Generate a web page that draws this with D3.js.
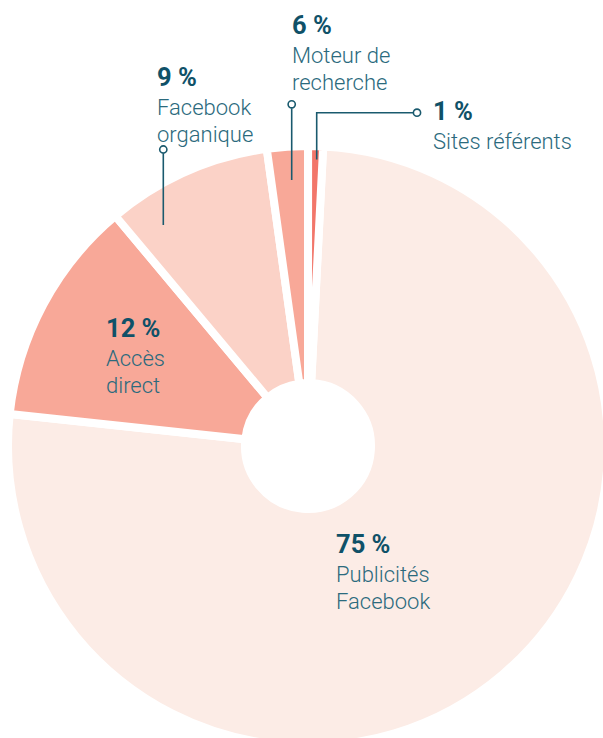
<!DOCTYPE html>
<html>
<head>
<meta charset="utf-8">
<script src="https://cdn.jsdelivr.net/npm/d3@7"></script>
<style>
  html, body { margin: 0; padding: 0; background: #fff; }
  svg { display: block; }
  .pct { font-family: Roboto, "Noto Sans", sans-serif; font-weight: 700; font-size: 25.5px; fill: #0f5168; }
  .name { font-family: Roboto, "Noto Sans", sans-serif; font-weight: 300; font-size: 22px; fill: #2b6a7d; }
</style>
</head>
<body>
<div id="chart"></div>
<script>
// traffic sources, in drawing order (clockwise)
const categories = ["Publicités Facebook", "Accès direct", "Facebook organique", "Moteur de recherche", "Sites référents"];
// share of the ring as drawn
const shares = [75.9, 12.2, 8.9, 2.2, 0.8];
// printed percentages
const pctLabels = ["75 %", "12 %", "9 %", "6 %", "1 %"];
// printed names, one entry per line
const nameLines = [["Publicités", "Facebook"], ["Accès", "direct"], ["Facebook", "organique"], ["Moteur de", "recherche"], ["Sites référents"]];

const colors = ["#fcece6", "#f8a898", "#fbd2c7", "#f8a898", "#f2766a"];

const width = 603, height = 738;
const cx = 308, cy = 446;

const svg = d3.select("#chart").append("svg")
    .attr("width", width)
    .attr("height", height);

const g = svg.append("g").attr("transform", `translate(${cx},${cy})`);

// ring starts a little right of twelve o'clock
const start = 2.9 * Math.PI / 180;
const pie = d3.pie().sort(null).value(d => d)
    .startAngle(start)
    .endAngle(start + 2 * Math.PI);

const arc = d3.arc().innerRadius(63).outerRadius(300);

g.selectAll("path.slice")
    .data(pie(shares))
    .join("path")
    .attr("class", "slice")
    .attr("d", arc)
    .attr("fill", (d, i) => colors[i])
    .attr("stroke", "#fff")
    .attr("stroke-width", 8)
    .attr("stroke-linejoin", "miter");

// label placement (page coords)
const labelPos = [
    { x: 336, y: 553 },
    { x: 106, y: 337 },
    { x: 157, y: 86 },
    { x: 292, y: 34 },
    { x: 433, y: 120 }
];

const labels = svg.append("g");
categories.forEach((c, i) => {
    const p = labelPos[i];
    const t = labels.append("g");
    t.append("text").attr("class", "pct")
        .attr("x", p.x).attr("y", p.y).text(pctLabels[i]);
    nameLines[i].forEach((line, k) => {
        t.append("text").attr("class", "name")
            .attr("x", p.x).attr("y", p.y + 28.5 + k * 27).text(line);
    });
});

// leader lines: dot, then path points down into the slice
const leaders = [
    { dot: [163.3, 149.5], pts: [[163.3, 153.5], [163.3, 225]] },
    { dot: [291.7, 104.3], pts: [[291.7, 108.3], [291.7, 180]] },
    { dot: [417, 112.7], pts: [[413, 112.7], [316.7, 112.7], [316.7, 159.5]] }
];

const line = d3.line();
const lg = svg.append("g");
leaders.forEach(l => {
    lg.append("path")
        .attr("d", line(l.pts))
        .attr("fill", "none")
        .attr("stroke", "#1a5a6e")
        .attr("stroke-width", 1.6);
    lg.append("circle")
        .attr("cx", l.dot[0]).attr("cy", l.dot[1])
        .attr("r", 3.6)
        .attr("fill", "#fff")
        .attr("stroke", "#1a5a6e")
        .attr("stroke-width", 1.6);
});
</script>
</body>
</html>
